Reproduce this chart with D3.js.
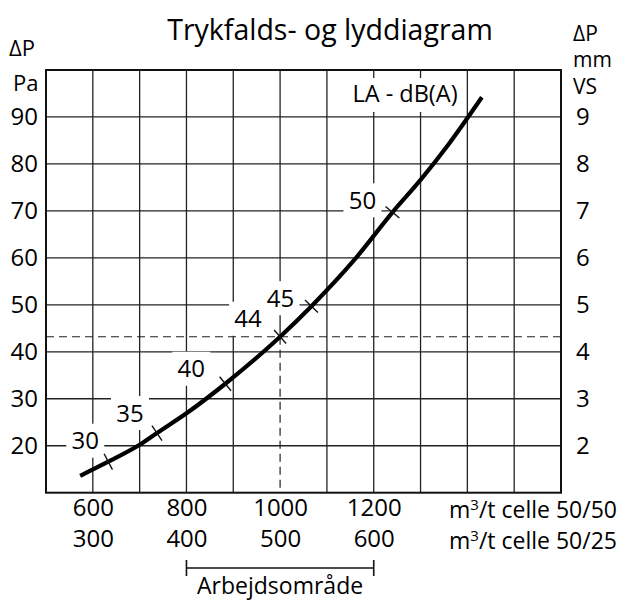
<!DOCTYPE html>
<html>
<head>
<meta charset="utf-8">
<script src="https://cdn.jsdelivr.net/npm/d3@7"></script>
<style>
  body { margin: 0; background: #fff; }
  svg text { font-family: "Open Sans", "Noto Sans", sans-serif; fill: #000; }
</style>
</head>
<body>
<svg id="chart" width="629" height="601" viewBox="0 0 629 601"></svg>
<script>
// curve: air flow (m3/t, celle 50/50) vs pressure drop (Pa)
const flow = [573, 633, 700, 737, 800, 883, 1000, 1067, 1158, 1240, 1300, 1360, 1431];
const pa   = [13.6, 16.6, 20.2, 22.7, 26.9, 33.2, 43.2, 49.7, 59.5, 69.7, 76.6, 84.2, 94.2];

// sound level marks along the curve
const dbLabels = [30, 35, 40, 44, 45, 50];
const dbFlow   = [633, 737, 883, 1000, 1067, 1240];

// operating point (dashed lines)
const opFlow = 1000;
const opPa = 43.2;

const xTicks  = [600, 800, 1000, 1200];
const yTicks  = [20, 30, 40, 50, 60, 70, 80, 90];
const y2Ticks = [2, 3, 4, 5, 6, 7, 8, 9];
const workRange = [800, 1200];

const svg = d3.select("#chart");

const x = d3.scaleLinear().domain([500, 1600]).range([46, 561]);
const y = d3.scaleLinear().domain([10, 100]).range([492.7, 70]);
const y2 = d3.scaleLinear().domain([1, 10]).range([492.7, 70]);

// grid
const grid = svg.append("g");
d3.range(600, 1600, 100).forEach(v => {
    grid.append("line")
        .attr("x1", x(v)).attr("x2", x(v))
        .attr("y1", y(100))
        .attr("y2", v === opFlow ? y(opPa) : y(10))
        .style("stroke", "#222").style("stroke-width", 1.3);
});
d3.range(20, 100, 10).forEach(v => {
    grid.append("line")
        .attr("x1", x(500)).attr("x2", x(1600))
        .attr("y1", y(v)).attr("y2", y(v))
        .style("stroke", "#222").style("stroke-width", 1.3);
});

// label background boxes (break the grid)
const labelOffsets = [[-23, -21], [-27, -20], [-34, -15], [-32, -18], [-31, -8], [-30, -12]];
const marks = dbLabels.map((db, i) => {
    const k = flow.indexOf(dbFlow[i]);
    const px = x(flow[k]), py = y(pa[k]);
    const ax = x(flow[k - 1]), ay = y(pa[k - 1]);
    const bx = x(flow[k + 1]), by = y(pa[k + 1]);
    const len = Math.hypot(bx - ax, by - ay);
    return { db, px, py, tx: (bx - ax) / len, ty: (by - ay) / len,
             lx: px + labelOffsets[i][0], ly: py + labelOffsets[i][1] };
});

const boxes = svg.append("g");
marks.forEach(m => {
    boxes.append("rect")
        .attr("x", m.lx - 19).attr("y", m.ly - 17)
        .attr("width", 38).attr("height", 34)
        .attr("fill", "#fff");
});
boxes.append("rect")
    .attr("x", 344).attr("y", 78).attr("width", 122).attr("height", 34)
    .attr("fill", "#fff");

// dashed operating lines
svg.append("line")
    .attr("x1", x(500)).attr("x2", x(1600))
    .attr("y1", y(opPa)).attr("y2", y(opPa))
    .style("stroke", "#222").style("stroke-width", 1.2)
    .style("stroke-dasharray", "8,5");
svg.append("line")
    .attr("x1", x(opFlow)).attr("x2", x(opFlow))
    .attr("y1", y(opPa)).attr("y2", y(10))
    .style("stroke", "#222").style("stroke-width", 1.2)
    .style("stroke-dasharray", "8,5");

// frame
svg.append("rect")
    .attr("x", x(500)).attr("y", y(100))
    .attr("width", x(1600) - x(500)).attr("height", y(10) - y(100))
    .attr("fill", "none")
    .style("stroke", "#111").style("stroke-width", 2);

// curve
const line = d3.line()
    .x((d, i) => x(flow[i]))
    .y((d, i) => y(pa[i]))
    .curve(d3.curveMonotoneX);

svg.append("path")
    .datum(flow)
    .attr("d", line)
    .attr("fill", "none")
    .style("stroke", "#000").style("stroke-width", 4.2)
    .style("stroke-linecap", "butt");

// cross marks and dB labels
marks.forEach(m => {
    const nx = -m.ty, ny = m.tx;
    svg.append("line")
        .attr("x1", m.px - nx * 9).attr("y1", m.py - ny * 9)
        .attr("x2", m.px + nx * 9).attr("y2", m.py + ny * 9)
        .style("stroke", "#111").style("stroke-width", 1.4);
    svg.append("text")
        .attr("x", m.lx).attr("y", m.ly + 8.5)
        .attr("text-anchor", "middle")
        .style("font-size", "24px")
        .text(m.db);
});

svg.append("text")
    .attr("x", 405).attr("y", 102)
    .attr("text-anchor", "middle")
    .style("font-size", "23.5px")
    .text("LA - dB(A)");

// axes
const leftAxis = svg.append("g")
    .attr("transform", `translate(${x(500)},0)`)
    .call(d3.axisLeft(y).tickValues(yTicks).tickSize(0).tickPadding(8));
const rightAxis = svg.append("g")
    .attr("transform", `translate(${x(1600)},0)`)
    .call(d3.axisRight(y2).tickValues(y2Ticks).tickSize(0).tickPadding(15));
const bottom1 = svg.append("g")
    .attr("transform", `translate(0,${y(10)})`)
    .call(d3.axisBottom(x).tickValues(xTicks).tickFormat(d => d).tickSize(0).tickPadding(6));
const bottom2 = svg.append("g")
    .attr("transform", `translate(0,${y(10) + 31})`)
    .call(d3.axisBottom(x).tickValues(xTicks).tickFormat(d => d / 2).tickSize(0).tickPadding(6));

[leftAxis, rightAxis, bottom1, bottom2].forEach(a => {
    a.select(".domain").remove();
    a.selectAll("text")
        .style("font-size", "24px")
        .style("font-family", "\"Open Sans\", sans-serif")
        .attr("fill", "#000");
});

// unit labels
svg.append("text").attr("x", 9).attr("y", 56).style("font-size", "22px").text("ΔP");
svg.append("text").attr("x", 13).attr("y", 91).style("font-size", "22px").text("Pa");
svg.append("text").attr("x", 573).attr("y", 41).style("font-size", "21px").text("ΔP");
svg.append("text").attr("x", 573).attr("y", 67).style("font-size", "21px").text("mm");
svg.append("text").attr("x", 573).attr("y", 94).style("font-size", "21px").text("VS");

const unitRows = ["celle 50/50", "celle 50/25"];
unitRows.forEach((t, i) => {
    const tx = svg.append("text")
        .attr("x", 449).attr("y", 518 + i * 31)
        .style("font-size", "23px");
    tx.append("tspan").text("m");
    tx.append("tspan").attr("dy", -8).style("font-size", "15px").text("3");
    tx.append("tspan").attr("dy", 8).text("/t " + t);
});

// title
svg.append("text")
    .attr("x", 330).attr("y", 40)
    .attr("text-anchor", "middle")
    .style("font-size", "28.5px")
    .text("Trykfalds- og lyddiagram");

// working range bracket
const br = svg.append("g").style("stroke", "#111").style("stroke-width", 1.6);
br.append("line").attr("x1", x(workRange[0])).attr("x2", x(workRange[1])).attr("y1", 568).attr("y2", 568);
br.append("line").attr("x1", x(workRange[0])).attr("x2", x(workRange[0])).attr("y1", 560).attr("y2", 576);
br.append("line").attr("x1", x(workRange[1])).attr("x2", x(workRange[1])).attr("y1", 560).attr("y2", 576);
svg.append("text")
    .attr("x", (x(workRange[0]) + x(workRange[1])) / 2).attr("y", 594)
    .attr("text-anchor", "middle")
    .style("font-size", "23px")
    .text("Arbejdsområde");
</script>
</body>
</html>
